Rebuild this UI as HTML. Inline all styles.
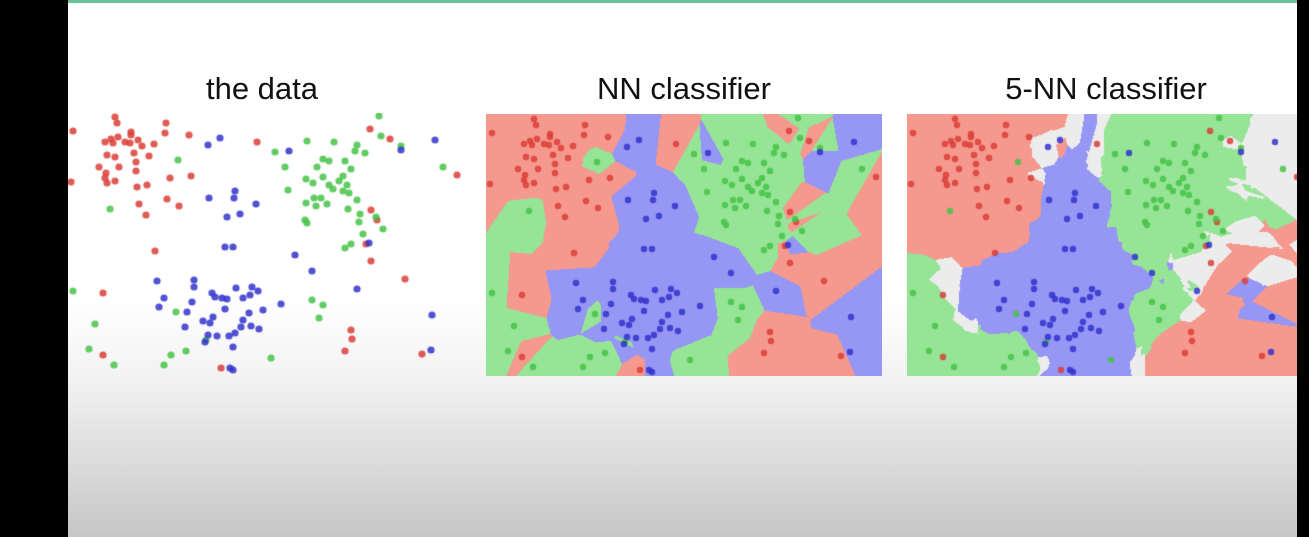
<!DOCTYPE html>
<html><head><meta charset="utf-8">
<style>
html,body{margin:0;padding:0;}
body{width:1309px;height:537px;position:relative;overflow:hidden;background:linear-gradient(to bottom,#fff 0px,#fff 300px,#f2f2f2 380px,#dcdcdc 460px,#c6c6c6 537px);font-family:"Liberation Sans",sans-serif;}
.bar{position:absolute;top:0;height:537px;background:#000;}
.title{position:absolute;top:71px;font-size:31px;color:#111;text-align:center;width:400px;}
canvas{position:absolute;}
</style></head><body>
<div class="bar" style="left:0;width:68px"></div>
<div style="position:absolute;left:68px;top:0;width:1229px;height:3px;background:#6cc39a"></div>
<div class="title" style="left:62px">the data</div>
<div class="title" style="left:484px">NN classifier</div>
<div class="title" style="left:906px">5-NN classifier</div>
<canvas id="c1" width="396" height="264" style="left:68px;top:113px"></canvas>
<canvas id="c2" width="396" height="262" style="left:486px;top:114px"></canvas>
<canvas id="c3" width="396" height="262" style="left:907px;top:114px"></canvas>
<div class="bar" style="left:1297px;width:12px"></div>
<script>
// points in "data" panel coordinates (screen px)
const redPts=[[73,131],[115,117],[117,123],[166,123],[165,133],[131,132],[131,135],[118,137],[111,139],[105,142],[113,143],[125,142],[130,143],[138,140],[142,146],[154,144],[189,135],[107,155],[115,157],[134,153],[149,156],[136,162],[99,167],[119,167],[136,171],[106,173],[105,178],[107,183],[115,181],[71,182],[137,187],[147,185],[170,178],[191,176],[167,199],[179,206],[139,204],[146,215],[155,251],[103,293],[103,355],[221,368],[257,142],
[370,129],[390,139],[457,175],[371,210],[377,220],[366,244],[371,261],[405,279],[351,330],[352,339],[345,351],[422,354]];
const greenPts=[[178,160],[110,209],[73,291],[176,312],[95,324],[89,349],[114,365],[164,365],[171,355],[186,351],[206,340],
[379,116],[381,136],[401,146],[307,141],[334,142],[275,152],[357,145],[355,151],[365,153],[323,159],[329,161],[345,161],[285,167],[317,167],[351,169],[443,167],[323,177],[343,176],[306,179],[313,183],[339,181],[329,185],[333,189],[347,185],[288,190],[343,191],[349,193],[314,198],[321,198],[306,203],[316,206],[327,204],[357,200],[348,209],[360,214],[359,222],[305,220],[307,223],[376,217],[383,229],[363,234],[351,244],[345,248],[312,300],[323,305],[319,318],[271,358]];
const bluePts=[[208,145],[220,138],[209,198],[235,191],[234,198],[256,204],[227,217],[240,214],[225,247],[233,247],[157,281],[194,280],[194,287],[164,298],[159,307],[192,302],[187,312],[212,293],[215,297],[222,298],[227,299],[236,288],[243,298],[250,295],[252,287],[258,291],[225,309],[249,313],[263,310],[203,321],[210,323],[213,317],[243,320],[241,327],[251,326],[259,329],[185,327],[208,335],[217,336],[229,336],[235,333],[205,342],[233,347],[230,368],[233,370],
[289,151],[401,150],[435,140],[369,243],[295,255],[312,271],[357,289],[281,304],[432,315],[431,350]];
const dotCols=['rgba(218,62,55,0.85)','rgba(70,195,70,0.85)','rgba(50,50,205,0.85)'];
const regCols=[[245,152,142],[150,228,150],[150,150,245]];
const pts=[];
[redPts,greenPts,bluePts].forEach((a,c)=>a.forEach(p=>pts.push([p[0],p[1],c])));
function dots(ctx,ox,oy,r){pts.forEach(p=>{ctx.fillStyle=dotCols[p[2]];ctx.beginPath();ctx.arc(p[0]-ox,p[1]-oy,r,0,7);ctx.fill();});}
function classify(ctx,ox,oy,k){
  const W=ctx.canvas.width,H=ctx.canvas.height,img=ctx.createImageData(W,H);
  const d=new Float64Array(pts.length);
  for(let y=0;y<H;y++)for(let x=0;x<W;x++){
    const sx=x+ox,sy=y+oy;
    for(let i=0;i<pts.length;i++){const dx=pts[i][0]-sx,dy=pts[i][1]-sy;d[i]=dx*dx+dy*dy;}
    const cnt=[0,0,0];const used=new Uint8Array(pts.length);
    for(let j=0;j<k;j++){let b=-1,bd=1e18;for(let i=0;i<pts.length;i++)if(!used[i]&&d[i]<bd){bd=d[i];b=i;}used[b]=1;cnt[pts[b][2]]++;}
    let m=Math.max(...cnt),win=cnt.indexOf(m),ties=cnt.filter(v=>v===m).length;
    const col=ties>1?[236,236,236]:regCols[win];
    const o=(y*W+x)*4;img.data[o]=col[0];img.data[o+1]=col[1];img.data[o+2]=col[2];img.data[o+3]=255;
  }
  ctx.putImageData(img,0,0);
}
const c1=document.getElementById('c1').getContext('2d');
dots(c1,68,113,3.6);
const c2=document.getElementById('c2').getContext('2d');
classify(c2,486-419,114-2,1);dots(c2,486-419,114-2,3.2);
const c3=document.getElementById('c3').getContext('2d');
classify(c3,907-840,114-2,5);dots(c3,907-840,114-2,3.2);
</script>
</body></html>
